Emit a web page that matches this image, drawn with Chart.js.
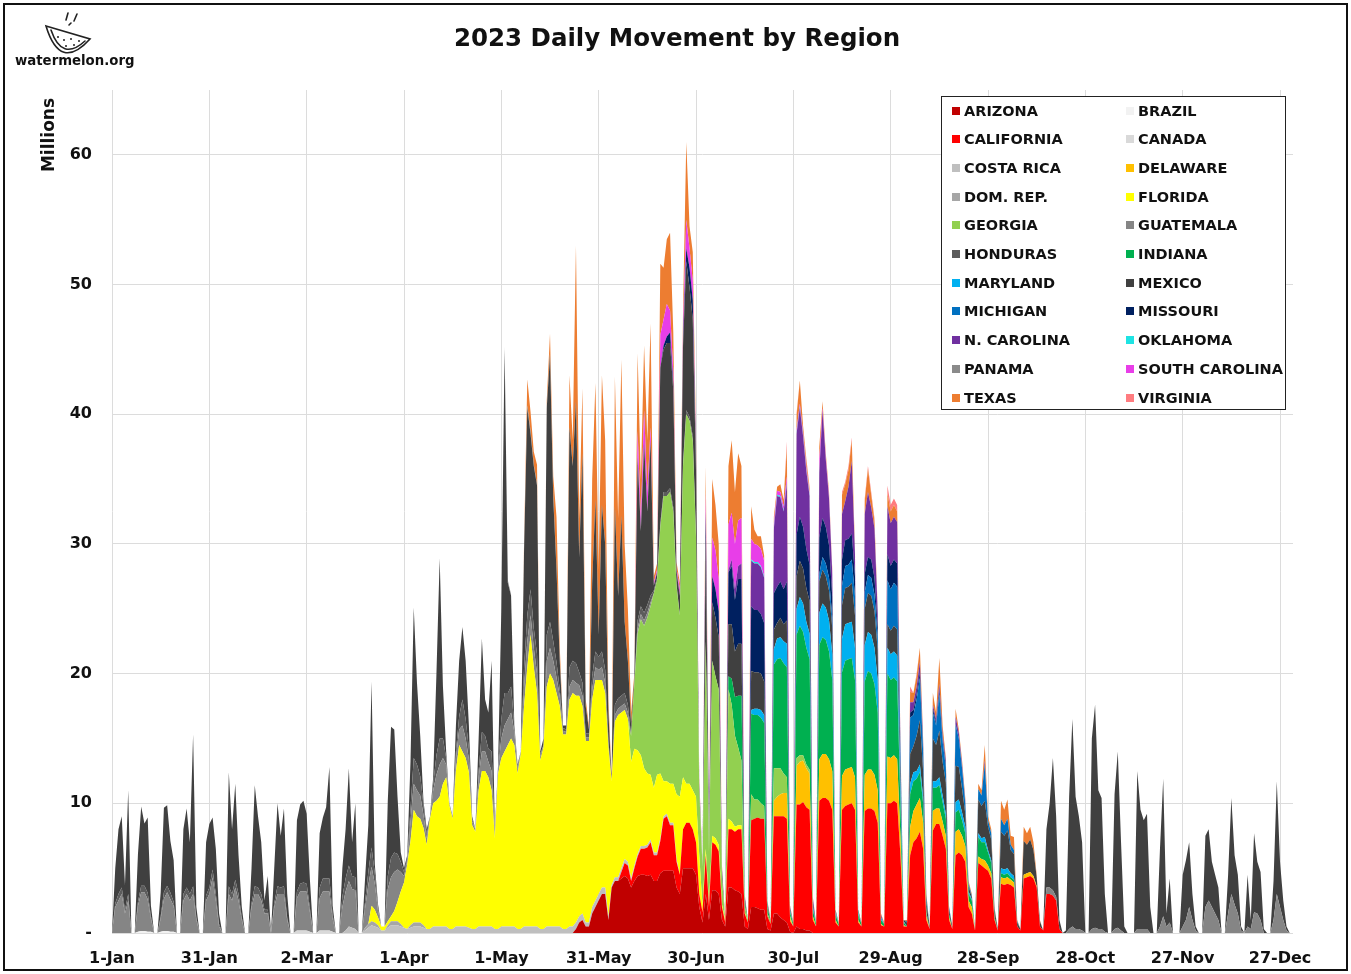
<!DOCTYPE html>
<html>
<head>
<meta charset="utf-8">
<script src="https://cdn.jsdelivr.net/npm/chart.js@4.4.0/dist/chart.umd.min.js"></script>
<style>
  body { margin: 0; background: #fff; }
  #page { position: relative; width: 1351px; height: 974px; overflow: hidden; font-family: "DejaVu Sans", sans-serif; color: #111; }
  #frame { position: absolute; left: 3px; top: 3px; width: 1341px; height: 964px; border: 2px solid #111; }
  #chart { position: absolute; left: 0; top: 0; }
  #title { position: absolute; left: 0; top: 20px; width: 1354px; text-align: center; font-weight: bold; font-size: 24.5px; line-height: 36px; }
  #ytitle { position: absolute; left: 8px; top: 125px; width: 80px; height: 20px; line-height: 20px; text-align: center; font-weight: bold; font-size: 17px; transform: rotate(-90deg); }
  #logoText { position: absolute; left: 15px; top: 53px; font-weight: bold; font-size: 13.3px; }
  #legend { position: absolute; left: 941px; top: 96px; width: 345px; height: 314px; box-sizing: border-box; border: 1.5px solid #222; background: #fff; }
  .item { position: absolute; height: 20px; line-height: 20px; font-weight: bold; font-size: 14.5px; white-space: nowrap; }
  .sw { display: inline-block; width: 8px; height: 8px; margin-right: 4px; vertical-align: 1px; }
</style>
</head>
<body>
<div id="page">
  <canvas id="chart" width="1351" height="974"></canvas>
  <div id="title">2023 Daily Movement by Region</div>
  <div id="ytitle">Millions</div>
  <svg width="150" height="80" style="position:absolute;left:0;top:0">
    <g fill="none" stroke="#222" stroke-width="1.6" stroke-linecap="round">
      <path d="M46,26 L90,39 Q60,72 46,26 Z"/>
      <path d="M51,30 Q62,62 85,41"/>
      <path d="M66,20 L68,13"/><path d="M74,21 L77,14"/><path d="M69,25 L71,23"/>
    </g>
    <g fill="#222">
      <circle cx="58" cy="37" r="1"/><circle cx="64" cy="40" r="1"/><circle cx="71" cy="39" r="1"/>
      <circle cx="66" cy="46" r="1"/><circle cx="74" cy="45" r="1"/><circle cx="79" cy="41" r="1"/>
    </g>
  </svg>
  <div id="logoText">watermelon.org</div>
  <div id="legend"></div>
  <div id="frame"></div>
</div>
<script>
const DAYS = 365;

// x axis: day of year (0 = 1-Jan-2023, a Sunday)
const tickDays = [0, 30, 60, 90, 120, 150, 180, 210, 240, 270, 300, 330, 360];
const tickLabels = ['1-Jan', '31-Jan', '2-Mar', '1-Apr', '1-May', '31-May', '30-Jun',
                    '30-Jul', '29-Aug', '28-Sep', '28-Oct', '27-Nov', '27-Dec'];
const yTicks = [0, 10, 20, 30, 40, 50, 60];

// each segment: [first week, rows of Sun..Sat values], days outside segments are 0
function build(...segments) {
  const out = new Array(DAYS).fill(0);
  segments.forEach(([week, rows]) => {
    rows.flat().forEach((v, i) => { out[week * 7 + i] = v; });
  });
  return out;
}

const arizona = build([20, [
  [0, 0, 0, 0.3, 0.8, 1, 0.5],
  [0.5, 1.5, 2, 2.5, 3, 3, 1],
  [3.5, 4, 4, 4.2, 4.4, 4.2, 3.5],
  [4, 4.4, 4.5, 4.5, 4.4, 4.5, 4],
  [4, 4.6, 4.8, 4.8, 4.8, 4.8, 3.5],
  [3, 5, 5, 5, 5, 4.5, 2],
  [0.8, 3, 1, 3.3, 3.3, 3, 1],
  [0.5, 3.5, 3.5, 3.3, 3.2, 3, 0.5],
  [0.3, 2, 2, 1.9, 1.8, 1.8, 0.3],
  [0.2, 1.5, 1.5, 1.2, 1, 0.8, 0.1],
  [0, 0.5, 0.3, 0.3, 0.2, 0.2, 0]
]]);

const brazil = build([1, [
  [0, 0.1, 0.15, 0.15, 0.1, 0.1, 0],
  [0, 0.1, 0.15, 0.15, 0.1, 0.1, 0]
]]);

const california = build([22, [
  [0, 0, 0, 0.5, 1, 1, 0.5],
  [1, 1.5, 2, 2, 2.2, 2.5, 2],
  [2, 2.5, 4, 4.2, 3.5, 3.5, 2],
  [1.5, 3, 3.5, 3.5, 3, 2.5, 1],
  [0.8, 3, 1, 3.7, 3.5, 3.3, 1],
  [0.3, 4.5, 4.5, 4.5, 4.8, 5, 1],
  [0.5, 6.7, 6.8, 7, 7, 7, 1],
  [0.5, 7.5, 7.5, 7.8, 8, 8, 0.8],
  [0.5, 9.4, 9.6, 9.8, 9.5, 9.3, 1],
  [0.5, 10.2, 10.4, 10.4, 10.2, 9.5, 0.8],
  [0.5, 9.5, 9.8, 9.9, 10, 9.5, 0.8],
  [0.5, 9.4, 9.6, 9.6, 9.4, 8.5, 0.6],
  [0.5, 10, 10, 10.2, 10, 6, 0.5],
  [0.5, 6, 7, 7.3, 7.8, 6.5, 1],
  [0.3, 7.9, 8.4, 8.4, 7.5, 6.5, 1],
  [0.3, 6, 6.2, 6, 5.5, 2, 1.5],
  [0.2, 5.4, 5.2, 5, 4.8, 4.2, 1],
  [0.2, 3.8, 3.7, 3.8, 3.7, 3.5, 0.5],
  [0.2, 4.2, 4.3, 4.4, 4.2, 3.5, 0.5],
  [0.2, 3, 3, 2.9, 2.5, 0.3, 0]
]]);

const canada = build([8, [
  [0, 0.2, 0.2, 0.2, 0.2, 0.1, 0],
  [0, 0.2, 0.2, 0.2, 0.2, 0.1, 0]
]]);

const costaRica = build([10, [
  [0, 0, 0.2, 0.5, 0.4, 0.3, 0],
  [0, 0.2, 0.4, 0.6, 0.5, 0.4, 0.2],
  [0.2, 0.4, 0.6, 0.6, 0.6, 0.5, 0.4],
  [0.3, 0.4, 0.5, 0.5, 0.5, 0.4, 0.3],
  [0.3, 0.5, 0.5, 0.5, 0.5, 0.5, 0.3],
  [0.3, 0.5, 0.5, 0.5, 0.5, 0.4, 0.3],
  [0.3, 0.5, 0.5, 0.5, 0.5, 0.5, 0.3],
  [0.3, 0.5, 0.5, 0.5, 0.5, 0.5, 0.3],
  [0.3, 0.5, 0.5, 0.5, 0.5, 0.5, 0.3],
  [0.3, 0.5, 0.5, 0.5, 0.5, 0.5, 0.3],
  [0.3, 0.5, 0.5, 0.5, 0.5, 0.5, 0.3],
  [0.3, 0.5, 0.5, 0.5, 0.5, 0.5, 0.3],
  [0.2, 0.3, 0.3, 0.3, 0.3, 0.3, 0.2],
  [0.2, 0.2, 0.2, 0.2, 0.2, 0.2, 0.2],
  [0.2, 0.2, 0.2, 0.2, 0.2, 0.2, 0.2]
]]);

const delaware = build([29, [
  [0, 1.2, 1.5, 1.7, 1.8, 2, 0.2],
  [0, 3, 3.3, 3.2, 3, 2.8, 0.3],
  [0, 3.2, 3.4, 3.4, 3.2, 3, 0.2],
  [0, 2.6, 2.8, 2.8, 2.8, 2.5, 0.2],
  [0, 2.8, 3, 3, 2.8, 2.5, 0.1],
  [0, 3.6, 3.5, 3.5, 3.4, 1.5, 0.1],
  [0, 2.2, 2.4, 2.6, 2.6, 2, 0.3],
  [0, 1.5, 1.2, 1.2, 1.1, 1, 0.2],
  [0, 1.8, 1.8, 1.5, 1.2, 0.5, 0.5],
  [0, 0.5, 0.5, 0.6, 0.4, 0.4, 0.1],
  [0, 0.5, 0.5, 0.5, 0.4, 0.4, 0],
  [0, 0.3, 0.3, 0.3, 0.2, 0.1, 0]
]]);

const domRep = build([11, [
  [0, 0.2, 0.3, 0.3, 0.3, 0.2, 0],
  [0, 0.2, 0.3, 0.3, 0.3, 0.2, 0],
  [0, 0.2, 0.3, 0.3, 0.3, 0.2, 0]
]]);

const florida = build([11, [
  [0, 0, 0, 1.2, 1, 0.6, 0.3],
  [0.3, 0.3, 0.4, 0.8, 1.5, 2.5, 3.5],
  [5, 6.5, 8.7, 8.2, 8, 7.5, 6.5],
  [8.5, 9.5, 9.7, 10, 11, 11.5, 9.5],
  [8.5, 12, 14, 13.5, 13, 12, 8],
  [7.5, 10.5, 12, 12, 11.5, 10.5, 7],
  [12, 13, 13.5, 14, 14.5, 14, 12],
  [13.5, 17, 20, 22.5, 20, 18, 13],
  [14, 18.5, 19.5, 19, 18, 17, 15],
  [15, 17.5, 18, 17.5, 17, 16, 14],
  [14, 16, 17, 16.5, 16, 15, 13],
  [8, 12, 12.5, 12, 11.5, 11, 9],
  [9, 8, 7, 6, 5.5, 5, 5],
  [6, 5, 2.7, 2.5, 3, 3, 5],
  [6, 4, 3, 3, 3, 3.5, 3],
  [0.5, 0.5, 0.3, 0.5, 0.5, 0.5, 0.2],
  [0.2, 0.8, 0.6, 0.4, 0.3, 0.3, 0.1]
]]);

const georgia = build([22, [
  [0, 0, 0, 0, 0, 0, 2],
  [5, 9, 10.5, 11, 12, 13, 15],
  [15, 19, 22, 22, 22.5, 21, 16],
  [14, 24, 28.5, 28, 27, 20, 5],
  [3, 16, 4, 13.5, 12.5, 12, 2],
  [0, 10, 9, 7, 6, 5, 0.5],
  [0.2, 2, 1.5, 1.4, 1.2, 1, 0.2],
  [0.2, 2.5, 2.2, 2, 1.5, 1.2, 0.2],
  [0, 0.6, 0.5, 0.4, 0.3, 0.3, 0]
]]);

const guatemala = build([0, [
  [0, 2, 2.5, 3, 1.5, 2.5, 0],
  [0, 2, 3, 3, 2.5, 1, 0],
  [0, 1, 2.5, 3, 2.5, 2, 0],
  [0, 2.5, 3, 2.5, 3, 1, 0],
  [0, 2.5, 3, 4.3, 2.5, 0.5, 0],
  [0, 3, 2.5, 3.5, 2.5, 1, 0],
  [0, 2, 3, 3, 2.5, 1.5, 1.5],
  [0, 2, 3, 3, 3, 1, 0],
  [0, 2.5, 3, 3, 3, 1.5, 0],
  [0, 2.5, 3, 3, 3, 1, 0],
  [0, 2, 3, 3.5, 3, 3, 0],
  [0, 1.5, 3, 3, 2, 0.5, 0],
  [0, 2.5, 3, 3, 2.5, 1.5, 0.5],
  [0.3, 1.5, 2, 2, 1.8, 1, 0.5],
  [0.2, 1, 2, 2.5, 2, 1, 0.2],
  [0.2, 1, 1.2, 2, 1.5, 1, 0.3],
  [0.2, 1, 1.5, 1.5, 1.2, 1.5, 0.3],
  [0.3, 1.5, 2, 2, 2, 1, 0.3],
  [0.2, 1.5, 2, 1.5, 1.5, 1.5, 0.3],
  [0.2, 2, 2, 1.5, 1.2, 0.8, 0.3],
  [0.2, 1, 1, 1, 0.8, 0.8, 0.3],
  [0.3, 0.8, 1, 0.8, 1, 0.8, 0.3],
  [0, 0.5, 0.5, 0.5, 0.5, 0.5, 0],
  [0, 0.4, 0.4, 0.4, 0.4, 0.3, 0]
]], [41, [
  [0, 0.5, 0.5, 0.4, 0.3, 0, 0],
  [0, 0.3, 0.5, 0.3, 0.3, 0.2, 0],
  [0, 0.3, 0.4, 0.3, 0.3, 0.1, 0],
  [0, 0.3, 0.4, 0.2, 0, 0, 0],
  [0, 0.3, 0.3, 0.3, 0.3, 0, 0],
  [0, 0.5, 1.3, 0.5, 0.8, 0, 0],
  [0, 0.5, 1, 2, 1, 0.2, 0],
  [0, 2, 2.5, 2, 1.5, 1, 0],
  [0, 1.5, 3, 2.2, 1.5, 0.2, 0],
  [0.5, 0.3, 1.6, 1.5, 1, 0, 0],
  [0, 1, 3, 2, 1, 0.2, 0]
]]);

const honduras = build([0, [
  [0, 0.3, 0.5, 0.5, 0.3, 0.5, 0],
  [0, 0.3, 0.5, 0.5, 0.5, 0.2, 0],
  [0, 0.2, 0.5, 0.5, 0.5, 0.3, 0],
  [0, 0.5, 0.5, 0.5, 0.6, 0.2, 0],
  [0, 0.4, 0.5, 0.6, 0.5, 0.2, 0],
  [0, 0.6, 0.5, 0.6, 0.5, 0.2, 0],
  [0, 0.3, 0.6, 0.5, 0.5, 0.3, 0.3],
  [0, 0.3, 0.6, 0.5, 0.6, 0.2, 0],
  [0, 0.5, 0.6, 0.7, 0.6, 0.3, 0],
  [0, 0.8, 1, 1, 1, 0.3, 0],
  [0, 0.8, 1, 1.2, 1, 1, 0],
  [0, 0.5, 1, 1.5, 0.8, 0.2, 0],
  [0, 1, 1.5, 1.5, 1.2, 0.8, 0.3],
  [0.2, 1, 2, 2, 1.5, 0.8, 0.3],
  [0, 0.5, 1.5, 2, 1.5, 0.5, 0],
  [0, 0.5, 1, 2, 1.5, 0.8, 0.2],
  [0, 0.5, 1.5, 1.2, 1, 1.5, 0.2],
  [0.2, 1.5, 2.5, 2, 2, 0.5, 0.2],
  [0, 1.5, 2, 2, 1.5, 1.5, 0.2],
  [0, 2, 2, 1.5, 1.2, 0.5, 0.2],
  [0.2, 1.5, 1.5, 1.5, 1, 1, 0.3],
  [0.3, 1, 1.2, 1, 1.2, 1, 0.3],
  [0, 0.8, 0.8, 0.8, 0.8, 0.6, 0],
  [0, 0.6, 0.6, 0.6, 0.6, 0.5, 0.2],
  [0.2, 0.3, 0.3, 0.3, 0.3, 0.3, 0.2],
  [0, 0.3, 0.3, 0.3, 0.3, 0.2, 0]
]]);

const indiana = build([27, [
  [0, 1, 2, 3, 4, 5, 0.3],
  [0, 6.2, 6.5, 6.5, 6.6, 6.4, 0.5],
  [0, 8, 8.4, 8.5, 8.5, 8.5, 0.3],
  [0.2, 9.5, 10, 9.5, 9, 8.5, 0.5],
  [0.2, 8.8, 9, 8.8, 8.3, 7, 0.4],
  [0.2, 8, 8.4, 8.4, 8.4, 7.5, 0.4],
  [0.2, 7.2, 7.6, 7.4, 7, 6, 0.3],
  [0.2, 6.4, 6, 6, 6, 2.5, 0.2],
  [0, 2.5, 2.3, 2, 2, 1.5, 0.2],
  [0, 1.8, 1.6, 1.8, 1.5, 1.3, 0.2],
  [0, 1.5, 1.5, 1.2, 1, 0.5, 0.5],
  [0, 1.5, 1.3, 1.4, 1, 0.8, 0.2],
  [0, 0.3, 0.3, 0.3, 0.2, 0.2, 0]
]]);

const maryland = build([28, [
  [0, 0.3, 0.5, 0.5, 0.6, 0.6, 0],
  [0, 1.2, 1.6, 1.6, 1.7, 1.8, 0.1],
  [0, 2, 2.2, 2.2, 2, 2, 0.2],
  [0, 2.5, 2.6, 2.5, 2.4, 2, 0.2],
  [0, 2.6, 2.8, 2.8, 2.8, 2.5, 0.2],
  [0, 2.8, 3, 3, 2.8, 2.5, 0.2],
  [0, 2, 2, 2, 2, 1, 0.1],
  [0, 0.8, 0.7, 0.6, 0.6, 0.5, 0.1],
  [0, 0.5, 0.5, 0.6, 0.5, 0.4, 0],
  [0, 0.8, 0.8, 0.6, 0.5, 0.2, 0.1],
  [0, 0.3, 0.3, 0.4, 0.2, 0.2, 0],
  [0, 0.4, 0.4, 0.4, 0.3, 0.3, 0]
]]);

const mexico = build([0, [
  [0, 2.7, 5, 5.5, 1.9, 8, 0],
  [0, 3.7, 6.1, 4.8, 5.8, 0.8, 0],
  [0, 1.8, 6.5, 6.2, 4, 3.2, 0],
  [0, 5, 6.1, 4, 11.7, 0.8, 0],
  [0, 4.1, 4.9, 4, 3.5, 0.8, 0],
  [0, 8.8, 5, 7.4, 3, 0.8, 0],
  [0, 2.7, 7.8, 5.5, 4, 0.7, 2.6],
  [0, 2.7, 6.4, 4, 6, 1.8, 0],
  [0, 5.5, 6.1, 6.3, 5.4, 2.2, 0],
  [0, 4.2, 4.7, 5.5, 8.6, 0.7, 0],
  [0, 2.2, 3.8, 7.5, 2.6, 5.7, 0],
  [0, 1.8, 3.6, 12.8, 0.7, 0.3, 0],
  [0, 5.8, 10.1, 9.5, 4.4, 0.7, 0.3],
  [0.2, 3.6, 11.6, 6.3, 3.1, 0.3, 0.4],
  [0, 0.5, 6.3, 13.9, 4, 0.5, 0],
  [0, 2, 4.3, 5.6, 4.5, 1.8, 0.2],
  [0, 2.5, 7.2, 2.8, 2.8, 7, 0.2],
  [0.2, 8.5, 26.5, 8.5, 7, 0, 0.2],
  [0, 9, 16, 12, 12.5, 13, 0.2],
  [0.5, 17.5, 20.5, 11, 7.1, 2.2, 0.2],
  [0.3, 18.5, 15, 20.2, 8.9, 17.7, 2.1],
  [0.3, 7.2, 11.7, 1.7, 11.3, 9.7, 2.1],
  [0, 15.3, 7.9, 13.9, 5.5, 3.4, 0.8],
  [0.5, 12.6, 5.8, 13.1, 7.2, 12, 0.4],
  [0.4, 12, 11, 11.5, 11.2, 9, 1],
  [1.5, 9, 11.5, 10, 9, 5, 0.5],
  [0.2, 8, 1, 4.5, 4.5, 4, 0.5],
  [0, 4, 4.2, 3.5, 4, 4, 0.2],
  [0, 3, 2.8, 2.8, 2.8, 2.6, 0.2],
  [0, 1.5, 1.2, 1.5, 1.3, 1.8, 0.1],
  [0, 2.5, 2.8, 2.7, 2.6, 2.5, 0.2],
  [0, 2.4, 2.6, 2.4, 2.3, 2, 0.1],
  [0, 2.6, 2.8, 2.8, 3, 2.5, 0.1],
  [0, 2.8, 3, 3, 2.8, 2.3, 0.1],
  [0, 1.8, 1.8, 2, 2, 1.2, 0.1],
  [0.3, 2.3, 2, 2.7, 3.4, 2, 0.8],
  [0.2, 3.3, 2.8, 3.6, 2.6, 2.4, 0.4],
  [0.2, 2.8, 2.5, 1.8, 1, 0.4, 0.2],
  [0.1, 2.6, 2.5, 2.8, 1.8, 1.6, 0.5],
  [0.1, 2.8, 2.6, 2.9, 1.8, 1.7, 0.3],
  [0.1, 2.6, 2.2, 2.5, 2, 0.7, 0.4],
  [0, 4.5, 6.5, 10.2, 6.2, 0.7, 0],
  [0.2, 10.2, 16, 10.2, 8.7, 6.8, 0],
  [0, 14.7, 17.2, 10.7, 10.1, 2.9, 0],
  [0, 10.4, 13.6, 6.8, 0.5, 0, 0],
  [0, 12.2, 9.2, 8.4, 8.9, 2, 0],
  [0, 6, 10.6, 1, 3.4, 0, 0],
  [0, 4, 4.6, 5, 2, 0.3, 0],
  [0, 5.5, 5.5, 3.5, 3, 2.5, 0],
  [0, 3, 7.4, 3.8, 3, 0.3, 0],
  [4, 0.7, 6.1, 4, 3.7, 0.3, 0],
  [0, 3, 8.7, 3.5, 1.5, 0.3, 0],
  [0]
]]);

const michigan = build([31, [
  [0, 0.6, 1, 1, 1, 0.8, 0],
  [0, 1.5, 1.7, 1.7, 1.8, 1.5, 0],
  [0, 1.3, 1.4, 1.4, 1.3, 1, 0],
  [0, 3.4, 3.2, 3.3, 3.3, 1.5, 0],
  [0.1, 2.8, 2.4, 2.8, 3.3, 1.5, 0.4],
  [0, 2, 1.5, 2.8, 1.6, 1.2, 0.2],
  [0, 3.2, 2.2, 1.6, 0.8, 0.2, 0.1],
  [0, 0.8, 0.8, 2.8, 0.5, 0.5, 0.1],
  [0, 1, 0.8, 0.9, 0.4, 0.3, 0.1]
]]);

const missouri = build([24, [
  [0, 0, 0.3, 0.5, 0.8, 0.5, 0],
  [0, 0.5, 1, 1.5, 1.5, 0.8, 0],
  [0, 2, 0.3, 2, 2.2, 2, 0.2],
  [0, 4, 4.5, 4, 5, 5, 0.2],
  [0, 5, 4.8, 4.8, 4.6, 4.5, 0.1],
  [0, 2.8, 2.8, 2.8, 2.7, 3, 0.1],
  [0, 3.2, 3.4, 3.2, 3, 2.8, 0.2],
  [0, 2.8, 3, 2.8, 2.5, 1.6, 0.1],
  [0, 2, 2, 2, 2, 1.5, 0.1],
  [0, 1.4, 1.4, 1.4, 1.3, 0.8, 0],
  [0, 2, 1.8, 1.8, 1.8, 0.5, 0],
  [0, 0.4, 0.4, 0.4, 0.4, 0.3, 0],
  [0, 0.3, 0.2, 0.3, 0.2, 0.2, 0]
]]);

const nCarolina = build([27, [
  [0, 0.2, 0.5, 0.8, 1, 1.2, 0],
  [0, 3.5, 3.6, 3.6, 3.6, 3.5, 0.1],
  [0, 5, 7, 6.5, 6, 7.5, 0.1],
  [0, 7.8, 8.4, 7, 6, 5.3, 0.3],
  [0, 5, 8.3, 5.2, 3.6, 1.8, 0],
  [0, 3.5, 3, 4, 5.6, 1.7, 0],
  [0, 4.6, 5, 4, 3.8, 1.1, 0.1],
  [0, 3.7, 3.3, 3.3, 3.2, 0.5, 0],
  [0, 0.8, 0.6, 0.6, 0.8, 0.4, 0],
  [0, 0.3, 0.3, 0.5, 0.3, 0.3, 0],
  [0, 0.6, 0.4, 0.3, 0.2, 0, 0],
  [0, 0, 0, 0.3, 0, 0, 0]
]]);

const oklahoma = build([28, [
  [0, 0.1, 0.1, 0.1, 0.1, 0.1, 0],
  [0, 0.1, 0.1, 0.1, 0.1, 0.1, 0],
  [0, 0.1, 0.1, 0.1, 0.1, 0.1, 0]
]]);

const panama = build([17, [
  [0, 0.1, 0.2, 0.2, 0.1, 0.1, 0],
  [0, 0.1, 0.2, 0.2, 0.1, 0.1, 0],
  [0, 0.1, 0.2, 0.2, 0.1, 0.1, 0]
]]);

const southCarolina = build([23, [
  [0, 2, 1, 2.5, 1.5, 1, 0.2],
  [0.2, 2.5, 2, 2.5, 1.7, 1, 0.2],
  [0.5, 1, 2.2, 1.5, 1.5, 0.5, 0.2],
  [0, 1.5, 0.2, 3, 3, 2.5, 0.1],
  [0, 3.5, 3.6, 3.5, 3.5, 3.5, 0.1],
  [0, 1.6, 1.4, 1.3, 1.3, 1.2, 0],
  [0, 0.3, 0.3, 0.3, 0.3, 0.5, 0],
  [0, 0.2, 0.2, 0.2, 0.2, 0.1, 0],
  [0, 1, 0.2, 0.2, 0.2, 0.1, 0]
]]);

const texas = build([18, [
  [0, 0.5, 2, 1.5, 1, 1.5, 0],
  [0, 0.5, 1.5, 1.5, 4, 1, 0],
  [0, 4, 2, 12, 3, 5, 0.5],
  [0.3, 8, 9, 5, 10, 8, 1],
  [0.3, 10, 6, 12, 6, 4, 1],
  [0.3, 6, 3, 5, 4, 8, 0.5],
  [0.5, 5.5, 4, 5, 6, 3, 0.5],
  [0.5, 1.2, 6, 1.7, 2.2, 1, 0.3],
  [0, 2, 0.2, 4.5, 3.5, 2.7, 0.2],
  [0, 4.5, 5.6, 4, 5.2, 4, 0.1],
  [0, 2.5, 1.1, 0.7, 1, 0.4, 0.1],
  [0.1, 0.5, 0.3, 0.6, 0.5, 2.2, 0.1],
  [0.1, 1.1, 1.8, 0.5, 0.5, 0.3, 0.1],
  [0.1, 1, 0.5, 0.3, 0.3, 0.2, 0],
  [0.1, 1.5, 1.3, 1.3, 1.6, 0.2, 0],
  [0.1, 1, 1.8, 1, 0.6, 0.2, 0.1],
  [0.1, 1, 0.9, 0.9, 0.8, 0.2, 0],
  [0.1, 0.8, 0.7, 0.8, 1.1, 0.3, 0.2],
  [0, 0.9, 0.5, 2, 0.7, 0.2, 0],
  [0, 0.6, 0.3, 0.3, 0.2, 0.2, 0.1],
  [0, 0.4, 0.4, 1.2, 0.3, 0.3, 0.1],
  [0, 1.4, 1.2, 1.5, 0.7, 1, 0.1],
  [0, 1.1, 0.9, 1, 0.6, 0.2, 0.1]
]]);

const virginia = build([29, [
  [0, 0, 0, 0, 0, 0.5, 0],
  [0, 0.2, 0, 0, 0.2, 0.2, 0],
  [0, 0, 0, 0, 0, 0, 0],
  [0, 0.2, 0.2, 0.3, 0.2, 0.1, 0],
  [0, 0.2, 0.2, 0.2, 0.2, 0.1, 0],
  [0, 0.6, 0.5, 0.5, 0.5, 0.1, 0],
  [0, 0.4, 0, 0.2, 0, 0, 0]
]]);

const names = ['ARIZONA', 'BRAZIL', 'CALIFORNIA', 'CANADA', 'COSTA RICA', 'DELAWARE',
  'DOM. REP.', 'FLORIDA', 'GEORGIA', 'GUATEMALA', 'HONDURAS', 'INDIANA', 'MARYLAND',
  'MEXICO', 'MICHIGAN', 'MISSOURI', 'N. CAROLINA', 'OKLAHOMA', 'PANAMA',
  'SOUTH CAROLINA', 'TEXAS', 'VIRGINIA'];
const colors = ['#c00000', '#f2f2f2', '#ff0000', '#d9d9d9', '#bfbfbf', '#ffc000',
  '#a6a6a6', '#ffff00', '#92d050', '#858585', '#5c5c5c', '#00b050', '#00b0f0',
  '#404040', '#0070c0', '#002060', '#7030a0', '#1ee3e3', '#8a8a8a',
  '#e83ee8', '#ed7d31', '#ff7c80'];
const values = [arizona, brazil, california, canada, costaRica, delaware, domRep,
  florida, georgia, guatemala, honduras, indiana, maryland, mexico, michigan,
  missouri, nCarolina, oklahoma, panama, southCarolina, texas, virginia];

// legend box, two columns, row by row
const legend = document.getElementById('legend');
names.forEach((n, i) => {
  const el = document.createElement('div');
  el.className = 'item';
  el.style.left = (i % 2 ? 184 : 10) + 'px';
  el.style.top = (Math.floor(i / 2) * 28.7 + 3.5) + 'px';
  el.innerHTML = '<span class="sw" style="background:' + colors[i] + '"></span>' + n;
  legend.appendChild(el);
});

Chart.defaults.font.family = '"DejaVu Sans", sans-serif';
Chart.defaults.color = '#111';

new Chart(document.getElementById('chart'), {
  type: 'line',
  data: {
    datasets: names.map((n, i) => ({
      label: n,
      data: values[i].map((v, d) => ({ x: d, y: v })),
      backgroundColor: colors[i],
      borderColor: colors[i],
      borderWidth: 0,
      pointRadius: 0,
      tension: 0,
      fill: i === 0 ? 'origin' : '-1'
    }))
  },
  options: {
    responsive: false,
    animation: false,
    devicePixelRatio: 1,
    layout: { padding: { left: 36, right: 58, top: 90, bottom: 5 } },
    plugins: { legend: { display: false }, tooltip: { enabled: false } },
    scales: {
      x: {
        type: 'linear',
        min: 0,
        max: 364,
        afterBuildTicks: s => { s.ticks = tickDays.map(v => ({ value: v })); },
        afterFit: s => { s.height = 36; },
        ticks: {
          callback: v => tickLabels[tickDays.indexOf(v)],
          font: { size: 16, weight: 'bold' },
          padding: 16,
          maxRotation: 0,
          autoSkip: false
        },
        grid: { color: '#dcdcdc', drawTicks: false },
        border: { display: false }
      },
      y: {
        stacked: true,
        min: 0,
        max: 65,
        afterBuildTicks: s => { s.ticks = yTicks.map(v => ({ value: v })); },
        afterFit: s => { s.width = 76; },
        ticks: {
          callback: v => (v === 0 ? '-' : v),
          font: { size: 16, weight: 'bold' },
          padding: 20
        },
        grid: { color: '#dcdcdc', drawTicks: false },
        border: { display: false }
      }
    }
  }
});
</script>
</body>
</html>
